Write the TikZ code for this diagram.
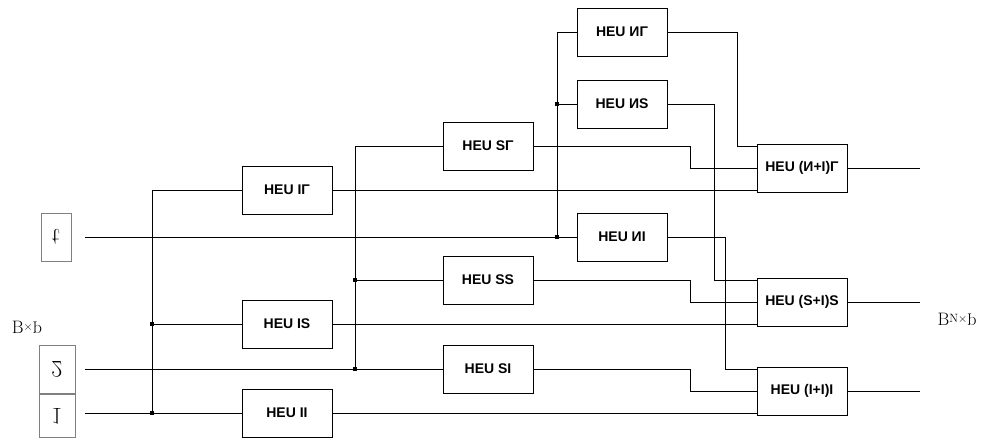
\documentclass[tikz,border=0pt]{standalone}
\usepackage{fontspec}
\usepackage{tikz}
\usetikzlibrary{positioning}
\newfontfamily\blkfont{Liberation Sans}
\definecolor{edgegray}{HTML}{808080}
\tikzset{blk/.style = {draw, line width=1pt, minimum width=90pt, minimum height=48pt,
                       inner sep=0, font=\blkfont\bfseries\fontsize{14}{16}\selectfont}}
\tikzset{inbox/.style = {draw=edgegray, line width=0.8pt, minimum width=30pt, minimum height=48pt,
                         inner sep=0, font=\fontsize{24}{26}\selectfont}}
\tikzset{junc/.style = {fill, rectangle, inner sep = 0, minimum size = 3.5pt}}
\tikzset{wire/.style = {line width=1pt}}
\newcommand{\flip}[1]{\scalebox{1}[-1]{#1}}
\newcommand{\flipp}{\raisebox{0.45em}{\flip{p}}}

\begin{document}
\begin{tikzpicture}[x=1pt, y=-1pt]
      \useasboundingbox (0, 0) rectangle (984, 439);
      % inputs
      \node [inbox] (inL) at (56, 237) {\flip{t}};
      \node [inbox, minimum width=36pt] (in2) at (57, 369) {\flip{2}};
      \node [inbox, minimum width=36pt, minimum height=43pt] (in1) at (57, 416) {\flip{1}};
      \node (lin) at (27, 327) {\fontsize{18}{19}\selectfont B\raisebox{3pt}{\fontsize{12}{12}\selectfont ×}\flipp};
      \node (lout) at (957, 319) {\fontsize{18}{19}\selectfont B\raisebox{3pt}{\fontsize{12}{12}\selectfont N×}\flipp};
      \coordinate (sL) at (85, 237);
      \coordinate (s2) at (85, 369);
      \coordinate (s1) at (85, 413);

      % first column
      \node [blk] (n1L) at (287, 190) {HEU IΓ};
      \node [blk] (n12) at (287, 324) {HEU IS};
      \node [blk] (n11) at (287, 413) {HEU II};
      % second column
      \node [blk] (n2L) at (488, 146) {HEU SΓ};
      \node [blk] (n22) at (488, 280) {HEU SS};
      \node [blk] (n21) at (488, 369) {HEU SI};
      % third column
      \node [blk] (nNL) at (622, 32) {HEU ИΓ};
      \node [blk] (nN2) at (622, 104) {HEU ИS};
      \node [blk] (nN1) at (622, 237) {HEU ИI};
      % outputs
      \node [blk] (oL) at (802, 168) {HEU (И+I)Γ};
      \node [blk] (o2) at (802, 302) {HEU (S+I)S};
      \node [blk] (o1) at (802, 391) {HEU (I+I)I};

      % junctions and bends
      \coordinate (j1) at (152, 413);
      \coordinate (j1m) at (152, 324);
      \coordinate (j2) at (355, 369);
      \coordinate (j2m) at (355, 280);
      \coordinate (j3) at (557, 237);
      \coordinate (j3m) at (557, 104);
      \coordinate (kS) at (690, 0);
      \coordinate (kNL) at (737, 0);
      \coordinate (kN2) at (714, 0);
      \coordinate (kN1) at (725, 0);
      \coordinate (eL) at (920, 168);
      \coordinate (e2) at (920, 302);
      \coordinate (e1) at (920, 391);

      \draw [wire] (s1) -- (n11);
      \draw [wire] (j1) |- (n1L);
      \draw [wire] (j1m) -- (n12);
      \draw [wire] (s2) -- (n21);
      \draw [wire] (j2) |- (n2L);
      \draw [wire] (j2m) -- (n22);
      \draw [wire] (sL) -- (nN1);
      \draw [wire] (j3) |- (nNL);
      \draw [wire] (j3m) -- (nN2);
      \foreach \j in {j1, j1m, j2, j2m, j3, j3m}
        \node [junc] at (\j) {};

      % into the outputs
      \draw [wire] (n1L.east) -- (n1L.east -| oL.west);
      \draw [wire] (n2L.east) -- (n2L.east -| kS) |- (oL.west);
      \draw [wire] (nNL.east) -- (nNL.east -| kNL) |- ([yshift=22pt]oL.west);
      \draw [wire] (n12.east) -- (n12.east -| o2.west);
      \draw [wire] (n22.east) -- (n22.east -| kS) |- (o2.west);
      \draw [wire] (nN2.east) -- (nN2.east -| kN2) |- ([yshift=22pt]o2.west);
      \draw [wire] (n11.east) -- (n11.east -| o1.west);
      \draw [wire] (n21.east) -- (n21.east -| kS) |- (o1.west);
      \draw [wire] (nN1.east) -- (nN1.east -| kN1) |- ([yshift=22pt]o1.west);
      \draw [wire] (oL) -- (eL);
      \draw [wire] (o2) -- (e2);
      \draw [wire] (o1) -- (e1);
    \end{tikzpicture}
\end{document}
